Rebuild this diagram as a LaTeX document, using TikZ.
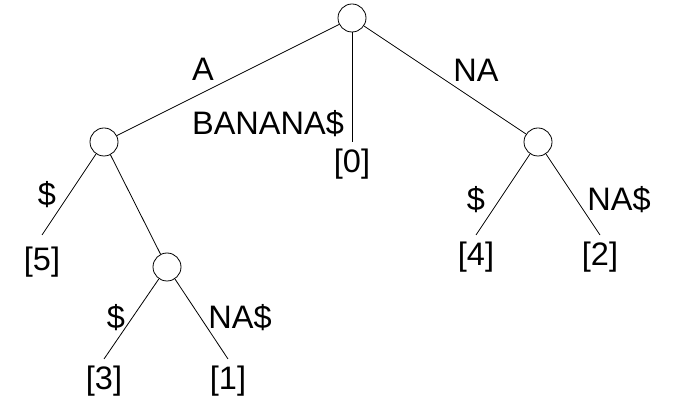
\documentclass[tikz,border=0pt]{standalone}
\usepackage{fontspec}
\setmainfont{Liberation Sans}
\usetikzlibrary{positioning}
\tikzset{
    knot/.style={draw, circle, fill=white, minimum size=28pt, inner sep=0pt, line width=0.8pt},
    leaf/.style={inner sep=0pt},
    lbl/.style={inner sep=0pt},
    conn/.style={-, black, line width=0.8pt},
}
\begin{document}
\begin{tikzpicture}[x=1pt, y=-1pt, font=\fontsize{32.5}{36}\selectfont]
        \useasboundingbox (0,0) rectangle (673,403);

        % inner nodes
        \node[knot] (r) at (352,18) {};
        \node[knot] (nA) at (104,142) {};
        \node[knot] (nNA) at (538,142) {};
        \node[knot] (nANA) at (167,267) {};

        % ends of the leaf edges
        \coordinate (e0) at (352,142);
        \coordinate (e5) at (42,235);
        \coordinate (e3) at (104,359);
        \coordinate (e1) at (228,359);
        \coordinate (e4) at (476,235);
        \coordinate (e2) at (600,235);

        \node[leaf, below=7pt of e0] (l0) {[0]};
        \node[leaf, below=12pt of e5] (l5) {[5]};
        \node[leaf, below=7pt of e3] (l3) {[3]};
        \node[leaf, below=7pt of e1] (l1) {[1]};
        \node[leaf, below=7pt of e4] (l4) {[4]};
        \node[leaf, below=7pt of e2] (l2) {[2]};

        % edge labels
        \node[lbl] (tA) at (203,69) {A};
        \node[lbl] (tBAN) at (268,124) {BANANA\$};
        \node[lbl] (tNA) at (476,70) {NA};
        \node[lbl] (tS5) at (47,195) {\$};
        \node[lbl] (tS3) at (116,318) {\$};
        \node[lbl] (tNAS1) at (240,318) {NA\$};
        \node[lbl] (tS4) at (476,200) {\$};
        \node[lbl] (tNAS2) at (619,200) {NA\$};

        \draw[conn] (r) -- (nA);
        \draw[conn] (r) -- (e0);
        \draw[conn] (r) -- (nNA);
        \draw[conn] (nA) -- (e5);
        \draw[conn] (nA) -- (nANA);
        \draw[conn] (nANA) -- (e3);
        \draw[conn] (nANA) -- (e1);
        \draw[conn] (nNA) -- (e4);
        \draw[conn] (nNA) -- (e2);
    \end{tikzpicture}
\end{document}
